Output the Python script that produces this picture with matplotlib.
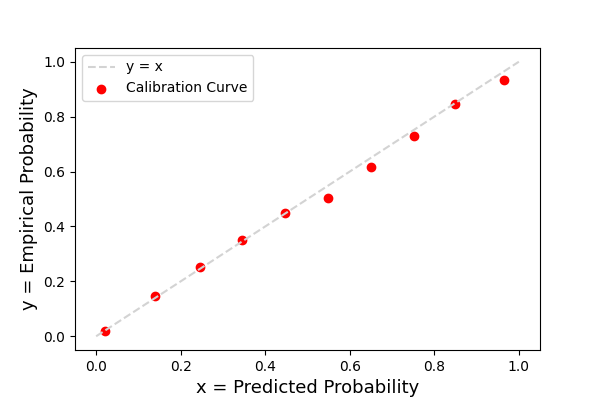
"""Calibration curve plot."""

import matplotlib

matplotlib.use("Agg")
import matplotlib.pyplot as plt

# Diagonal reference
ref_x = [0.0, 1.0]
ref_y = [0.0, 1.0]

# Calibration points (predicted vs empirical)
pred_prob = [0.02, 0.14, 0.245, 0.345, 0.447, 0.549, 0.651, 0.751, 0.85, 0.966]
emp_prob = [0.02, 0.146, 0.252, 0.35, 0.449, 0.504, 0.617, 0.73, 0.847, 0.934]

fig, ax = plt.subplots(figsize=(6, 4), dpi=100)
fig.subplots_adjust(bottom=0.125)

ax.plot(ref_x, ref_y, linestyle="--", color="lightgray", label="y = x")
ax.scatter(pred_prob, emp_prob, color="red", label="Calibration Curve")

ax.set_xlabel("x = Predicted Probability", fontsize=13)
ax.set_ylabel("y = Empirical Probability", fontsize=13)
ax.legend(loc="upper left")

fig.savefig("out.png", dpi=100)
plt.close(fig)
